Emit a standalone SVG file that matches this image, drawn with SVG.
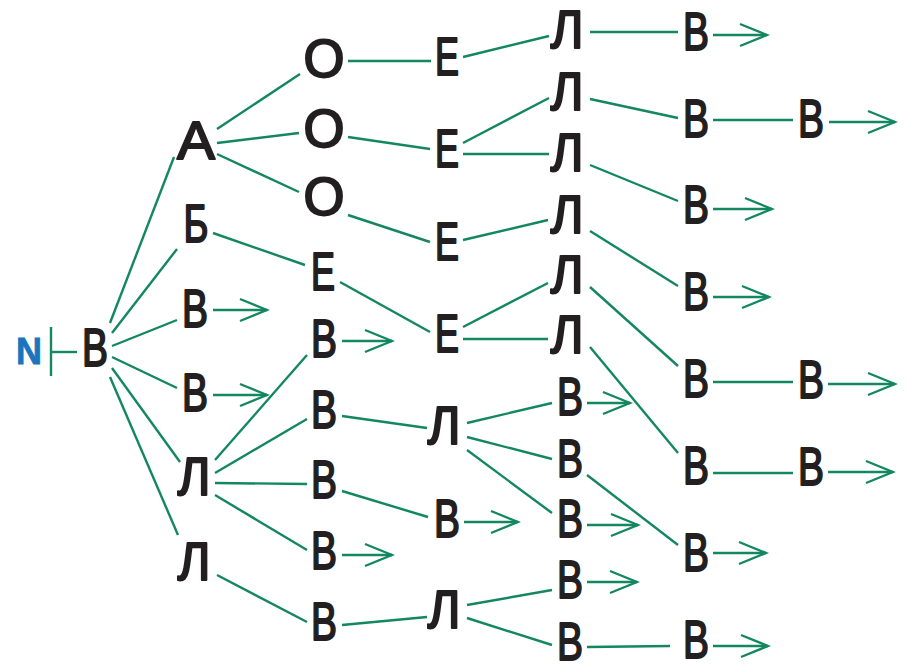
<svg xmlns="http://www.w3.org/2000/svg" width="914" height="672" viewBox="0 0 914 672">
<style>
.t{font-family:"Liberation Sans",Arial,sans-serif;font-size:53px;fill:#231f20;stroke:#231f20;stroke-width:2;stroke-linejoin:round;text-anchor:middle}
.c line{stroke:#13875f;stroke-width:2.4;fill:none}
.a{marker-end:url(#ah)}
.n{font-family:"Liberation Sans",Arial,sans-serif;font-size:36px;font-weight:bold;fill:#1b75bc;stroke:#1b75bc;stroke-width:0.8;text-anchor:middle}
</style>
<defs>
<marker id="ah" markerUnits="userSpaceOnUse" viewBox="-30 -13 33 26" markerWidth="33" markerHeight="26" refX="0" refY="0" orient="auto">
<path d="M-27,-11 L0,0 L-27,11" fill="none" stroke="#13875f" stroke-width="2.4"/>
</marker>
</defs>
<rect width="914" height="672" fill="#ffffff"/>
<g id="connectors" class="c">
<line x1="51" y1="327" x2="51" y2="376"/>
<line x1="51" y1="352" x2="77" y2="352"/>
<line x1="110" y1="323" x2="174" y2="157"/>
<line x1="112" y1="333" x2="177" y2="249"/>
<line x1="112" y1="346" x2="177" y2="320"/>
<line x1="112" y1="357" x2="177" y2="388"/>
<line x1="112" y1="368" x2="180" y2="462"/>
<line x1="110" y1="377" x2="178" y2="535"/>
<line x1="217" y1="129" x2="300" y2="74"/>
<line x1="217" y1="143" x2="299" y2="133"/>
<line x1="217" y1="154" x2="299" y2="192"/>
<line x1="213" y1="233" x2="305" y2="265"/>
<line x1="215" y1="460" x2="307" y2="355"/>
<line x1="215" y1="473" x2="307" y2="419"/>
<line x1="215" y1="483" x2="307" y2="484"/>
<line x1="215" y1="495" x2="307" y2="550"/>
<line x1="217" y1="575" x2="307" y2="622"/>
<line x1="348" y1="61" x2="431" y2="61"/>
<line x1="348" y1="137" x2="430" y2="149"/>
<line x1="348" y1="215" x2="430" y2="242"/>
<line x1="340" y1="282" x2="430" y2="332"/>
<line x1="342" y1="416" x2="427" y2="428"/>
<line x1="342" y1="491" x2="428" y2="517"/>
<line x1="342" y1="625" x2="427" y2="617"/>
<line x1="463" y1="57" x2="549" y2="36"/>
<line x1="463" y1="143" x2="549" y2="98"/>
<line x1="463" y1="154" x2="549" y2="154"/>
<line x1="463" y1="240" x2="548" y2="220"/>
<line x1="463" y1="327" x2="548" y2="283"/>
<line x1="463" y1="339" x2="548" y2="339"/>
<line x1="467" y1="423" x2="552" y2="403"/>
<line x1="467" y1="437" x2="552" y2="459"/>
<line x1="467" y1="450" x2="552" y2="513"/>
<line x1="467" y1="605" x2="552" y2="590"/>
<line x1="467" y1="618" x2="552" y2="645"/>
<line x1="590" y1="32" x2="678" y2="32"/>
<line x1="590" y1="99" x2="678" y2="118"/>
<line x1="590" y1="165" x2="678" y2="201"/>
<line x1="590" y1="231" x2="678" y2="286"/>
<line x1="590" y1="287" x2="678" y2="366"/>
<line x1="590" y1="347" x2="678" y2="453"/>
<line x1="587" y1="475" x2="678" y2="545"/>
<line x1="587" y1="647" x2="670" y2="646"/>
<line x1="713" y1="120" x2="793" y2="120"/>
<line x1="713" y1="382" x2="793" y2="382"/>
<line x1="713" y1="473" x2="793" y2="473"/>
<line class="a" x1="213" y1="310" x2="267" y2="310"/>
<line class="a" x1="213" y1="395" x2="267" y2="395"/>
<line class="a" x1="342" y1="341" x2="392" y2="341"/>
<line class="a" x1="342" y1="555" x2="392" y2="555"/>
<line class="a" x1="464" y1="522" x2="518" y2="522"/>
<line class="a" x1="587" y1="403" x2="630" y2="403"/>
<line class="a" x1="587" y1="525" x2="638" y2="525"/>
<line class="a" x1="587" y1="582" x2="637" y2="582"/>
<line class="a" x1="713" y1="35" x2="767" y2="35"/>
<line class="a" x1="713" y1="209" x2="772" y2="209"/>
<line class="a" x1="713" y1="297" x2="769" y2="297"/>
<line class="a" x1="713" y1="553" x2="766" y2="553"/>
<line class="a" x1="713" y1="646" x2="768" y2="646"/>
<line class="a" x1="829" y1="122" x2="895" y2="122"/>
<line class="a" x1="828" y1="384" x2="895" y2="384"/>
<line class="a" x1="828" y1="472" x2="893" y2="472"/>
</g>
<g id="n-N"><text class="n" x="29" y="364">N</text></g>
<g id="n-root"><text class="t" x="95" y="366" textLength="26" lengthAdjust="spacingAndGlyphs">В</text></g>
<g id="n-A"><text class="t" x="196" y="159" textLength="38" lengthAdjust="spacingAndGlyphs">А</text></g>
<g id="n-Б"><text class="t" x="196" y="242" textLength="25" lengthAdjust="spacingAndGlyphs">Б</text></g>
<g id="n-B1a"><text class="t" x="195" y="327" textLength="26" lengthAdjust="spacingAndGlyphs">В</text></g>
<g id="n-B1b"><text class="t" x="195" y="411" textLength="26" lengthAdjust="spacingAndGlyphs">В</text></g>
<g id="n-L1a"><text class="t" x="194" y="495" textLength="33" lengthAdjust="spacingAndGlyphs">Л</text></g>
<g id="n-L1b"><text class="t" x="194" y="580" textLength="33" lengthAdjust="spacingAndGlyphs">Л</text></g>
<g id="n-O1"><text class="t" x="324" y="77" textLength="41" lengthAdjust="spacingAndGlyphs">О</text></g>
<g id="n-O2"><text class="t" x="324" y="147" textLength="41" lengthAdjust="spacingAndGlyphs">О</text></g>
<g id="n-O3"><text class="t" x="324" y="215" textLength="41" lengthAdjust="spacingAndGlyphs">О</text></g>
<g id="n-E2"><text class="t" x="323" y="290" textLength="24" lengthAdjust="spacingAndGlyphs">Е</text></g>
<g id="n-B2a"><text class="t" x="324" y="357" textLength="26" lengthAdjust="spacingAndGlyphs">В</text></g>
<g id="n-B2b"><text class="t" x="324" y="428" textLength="26" lengthAdjust="spacingAndGlyphs">В</text></g>
<g id="n-B2c"><text class="t" x="324" y="498" textLength="26" lengthAdjust="spacingAndGlyphs">В</text></g>
<g id="n-B2d"><text class="t" x="324" y="569" textLength="26" lengthAdjust="spacingAndGlyphs">В</text></g>
<g id="n-B2e"><text class="t" x="324" y="640" textLength="26" lengthAdjust="spacingAndGlyphs">В</text></g>
<g id="n-E3a"><text class="t" x="447" y="75" textLength="24" lengthAdjust="spacingAndGlyphs">Е</text></g>
<g id="n-E3b"><text class="t" x="447" y="167" textLength="24" lengthAdjust="spacingAndGlyphs">Е</text></g>
<g id="n-E3c"><text class="t" x="447" y="260" textLength="24" lengthAdjust="spacingAndGlyphs">Е</text></g>
<g id="n-E3d"><text class="t" x="447" y="352" textLength="24" lengthAdjust="spacingAndGlyphs">Е</text></g>
<g id="n-L3a"><text class="t" x="444" y="444" textLength="33" lengthAdjust="spacingAndGlyphs">Л</text></g>
<g id="n-B3"><text class="t" x="447" y="537" textLength="26" lengthAdjust="spacingAndGlyphs">В</text></g>
<g id="n-L3b"><text class="t" x="444" y="628" textLength="33" lengthAdjust="spacingAndGlyphs">Л</text></g>
<g id="n-L4a"><text class="t" x="567" y="48" textLength="33" lengthAdjust="spacingAndGlyphs">Л</text></g>
<g id="n-L4b"><text class="t" x="567" y="110" textLength="33" lengthAdjust="spacingAndGlyphs">Л</text></g>
<g id="n-L4c"><text class="t" x="567" y="171" textLength="33" lengthAdjust="spacingAndGlyphs">Л</text></g>
<g id="n-L4d"><text class="t" x="567" y="233" textLength="33" lengthAdjust="spacingAndGlyphs">Л</text></g>
<g id="n-L4e"><text class="t" x="567" y="293" textLength="33" lengthAdjust="spacingAndGlyphs">Л</text></g>
<g id="n-L4f"><text class="t" x="567" y="353" textLength="33" lengthAdjust="spacingAndGlyphs">Л</text></g>
<g id="n-B4a"><text class="t" x="570" y="415" textLength="26" lengthAdjust="spacingAndGlyphs">В</text></g>
<g id="n-B4b"><text class="t" x="570" y="477" textLength="26" lengthAdjust="spacingAndGlyphs">В</text></g>
<g id="n-B4c"><text class="t" x="570" y="537" textLength="26" lengthAdjust="spacingAndGlyphs">В</text></g>
<g id="n-B4d"><text class="t" x="570" y="598" textLength="26" lengthAdjust="spacingAndGlyphs">В</text></g>
<g id="n-B4e"><text class="t" x="570" y="660" textLength="26" lengthAdjust="spacingAndGlyphs">В</text></g>
<g id="n-B5a"><text class="t" x="696" y="50" textLength="26" lengthAdjust="spacingAndGlyphs">В</text></g>
<g id="n-B5b"><text class="t" x="696" y="137" textLength="26" lengthAdjust="spacingAndGlyphs">В</text></g>
<g id="n-B5c"><text class="t" x="696" y="223" textLength="26" lengthAdjust="spacingAndGlyphs">В</text></g>
<g id="n-B5d"><text class="t" x="696" y="310" textLength="26" lengthAdjust="spacingAndGlyphs">В</text></g>
<g id="n-B5e"><text class="t" x="696" y="397" textLength="26" lengthAdjust="spacingAndGlyphs">В</text></g>
<g id="n-B5f"><text class="t" x="696" y="484" textLength="26" lengthAdjust="spacingAndGlyphs">В</text></g>
<g id="n-B5g"><text class="t" x="696" y="571" textLength="26" lengthAdjust="spacingAndGlyphs">В</text></g>
<g id="n-B5h"><text class="t" x="696" y="658" textLength="26" lengthAdjust="spacingAndGlyphs">В</text></g>
<g id="n-B6a"><text class="t" x="811" y="137" textLength="26" lengthAdjust="spacingAndGlyphs">В</text></g>
<g id="n-B6b"><text class="t" x="811" y="398" textLength="26" lengthAdjust="spacingAndGlyphs">В</text></g>
<g id="n-B6c"><text class="t" x="811" y="485" textLength="26" lengthAdjust="spacingAndGlyphs">В</text></g>
</svg>
